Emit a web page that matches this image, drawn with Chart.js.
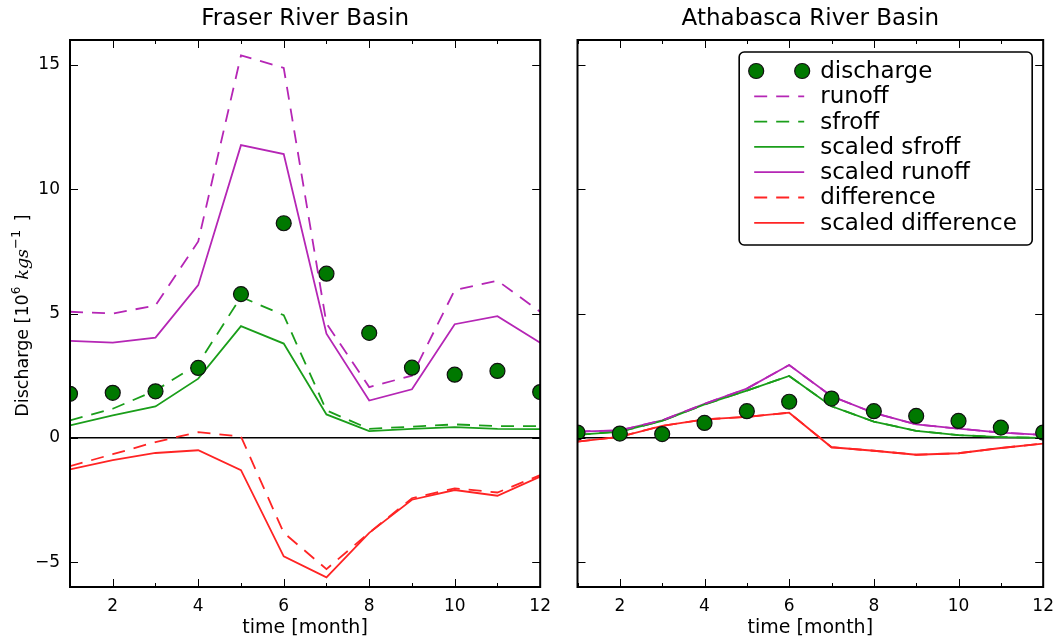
<!DOCTYPE html>
<html>
<head>
<meta charset="utf-8">
<script src="https://cdn.jsdelivr.net/npm/chart.js@4.4.1/dist/chart.umd.min.js"></script>
<style>
  html, body { margin: 0; padding: 0; background: #fff; }
  #wrap { position: relative; width: 1063px; height: 639px; overflow: hidden; }
  canvas { position: absolute; top: 0; }
  #fraser { left: 0; }
  #athabasca { left: 560px; }
</style>
</head>
<body>
<div id="wrap">
  <canvas id="fraser" width="560" height="639"></canvas>
  <canvas id="athabasca" width="503" height="639"></canvas>
</div>
<script>
const months = [1, 2, 3, 4, 5, 6, 7, 8, 9, 10, 11, 12];
const yTicks = [-5, 0, 5, 10, 15];

// Fraser River Basin, 10^6 kg/s
const fraserDischarge    = [1.77, 1.81, 1.87, 2.81, 5.78, 8.63, 6.60, 4.22, 2.82, 2.54, 2.69, 1.84];
const fraserRunoff       = [5.07, 5.00, 5.32, 7.90, 15.38, 14.88, 4.60, 2.04, 2.50, 5.94, 6.32, 5.07];
const fraserSfroff       = [0.70, 1.17, 1.90, 2.98, 5.67, 4.93, 1.10, 0.36, 0.45, 0.54, 0.47, 0.47];
const fraserScaledSfroff = [0.50, 0.90, 1.26, 2.38, 4.49, 3.79, 0.94, 0.27, 0.36, 0.43, 0.36, 0.35];
const fraserScaledRunoff = [3.90, 3.83, 4.03, 6.14, 11.77, 11.41, 4.19, 1.50, 1.95, 4.57, 4.89, 3.82];
const fraserDiff         = [-1.14, -0.66, -0.17, 0.23, 0.05, -3.82, -5.28, -3.82, -2.43, -2.03, -2.20, -1.50];
const fraserScaledDiff   = [-1.27, -0.90, -0.61, -0.50, -1.30, -4.77, -5.61, -3.82, -2.49, -2.10, -2.33, -1.56];

// Athabasca River Basin, 10^6 kg/s
const athaDischarge    = [0.21, 0.17, 0.15, 0.60, 1.07, 1.45, 1.58, 1.07, 0.88, 0.68, 0.41, 0.21];
const athaRunoff       = [0.25, 0.30, 0.70, 1.37, 1.98, 2.93, 1.67, 1.00, 0.54, 0.37, 0.21, 0.12];
const athaSfroff       = [0.12, 0.25, 0.68, 1.34, 1.90, 2.49, 1.27, 0.65, 0.28, 0.11, 0.03, 0.00];
const athaScaledSfroff = [0.12, 0.25, 0.68, 1.34, 1.90, 2.49, 1.27, 0.65, 0.28, 0.11, 0.03, 0.00];
const athaScaledRunoff = [0.25, 0.30, 0.70, 1.37, 1.98, 2.93, 1.67, 1.00, 0.54, 0.37, 0.21, 0.12];
const athaDiff         = [-0.15, 0.04, 0.48, 0.74, 0.84, 1.01, -0.38, -0.52, -0.68, -0.62, -0.41, -0.23];
const athaScaledDiff   = [-0.15, 0.04, 0.48, 0.74, 0.84, 1.01, -0.38, -0.52, -0.68, -0.62, -0.41, -0.23];

const DOT = '#007800';
const GREEN = '#1a9e1a';
const MAGENTA = '#b526b5';
const RED = '#ff2424';
const DASH = [13, 9];
const SANS = '"DejaVu Sans", sans-serif';

const pts = vals => months.map((m, i) => ({ x: m, y: vals[i] }));

function line(label, vals, color, dashed) {
  return {
    label, data: pts(vals), borderColor: color, backgroundColor: color,
    borderWidth: 1.8, borderDash: dashed ? DASH : [], pointRadius: 0,
    tension: 0, fill: false
  };
}

function buildSets(d) {
  return [
    { label: 'discharge', data: pts(d.discharge), showLine: false,
      pointRadius: 7.5, pointHoverRadius: 7.5, pointBackgroundColor: DOT,
      pointBorderColor: '#111', pointBorderWidth: 1.2, backgroundColor: DOT,
      borderColor: '#111', clip: 0 },
    line('runoff', d.runoff, MAGENTA, true),
    line('sfroff', d.sfroff, GREEN, true),
    line('scaled sfroff', d.scaledSfroff, GREEN, false),
    line('scaled runoff', d.scaledRunoff, MAGENTA, false),
    line('difference', d.diff, RED, true),
    line('scaled difference', d.scaledDiff, RED, false)
  ];
}

// box around the axes with inward ticks on every side
const frameTicks = {
  id: 'frameTicks',
  afterDraw(chart) {
    const { ctx, chartArea: a, scales: { x, y } } = chart;
    ctx.save();
    ctx.strokeStyle = '#000';
    ctx.lineWidth = 1;
    ctx.beginPath();
    x.ticks.forEach(t => {
      const px = Math.round(x.getPixelForValue(t.value)) + 0.5;
      const len = t.value % 2 === 0 ? 8 : 4;
      ctx.moveTo(px, a.bottom); ctx.lineTo(px, a.bottom - len);
      ctx.moveTo(px, a.top); ctx.lineTo(px, a.top + len);
    });
    yTicks.forEach(v => {
      const py = Math.round(y.getPixelForValue(v)) + 0.5;
      ctx.moveTo(a.left, py); ctx.lineTo(a.left + 8, py);
      ctx.moveTo(a.right, py); ctx.lineTo(a.right - 8, py);
    });
    ctx.stroke();
    ctx.lineWidth = 2;
    ctx.strokeRect(a.left, a.top, a.right - a.left, a.bottom - a.top);
    ctx.restore();
  }
};

// rotated y label with a superscript exponent and italic units
const yLabel = {
  id: 'yLabel',
  afterDraw(chart, args, o) {
    if (!o.display) return;
    const { ctx, chartArea: a } = chart;
    const parts = [
      { t: 'Discharge [10', f: '17.5px ' + SANS, dy: 0 },
      { t: '6', f: '12px ' + SANS, dy: -8, gap: 7 },
      { t: 'kgs', f: 'italic 17.5px "DejaVu Serif", serif', dy: 0 },
      { t: '\u22121', f: '13px ' + SANS, dy: -8, gap: 3 },
      { t: ' ]', f: '17.5px ' + SANS, dy: 0 }
    ];
    ctx.save();
    let total = 0;
    parts.forEach(p => {
      ctx.font = p.f;
      p.w = ctx.measureText(p.t).width + (p.gap || 0);
      total += p.w;
    });
    ctx.translate(o.x, (a.top + a.bottom) / 2 + 2);
    ctx.rotate(-Math.PI / 2);
    ctx.fillStyle = '#000';
    ctx.textBaseline = 'alphabetic';
    let cx = -total / 2;
    parts.forEach(p => { ctx.font = p.f; ctx.fillText(p.t, cx, p.dy); cx += p.w; });
    ctx.restore();
  }
};

// boxed legend inside the top right corner of the axes
const insetLegend = {
  id: 'insetLegend',
  afterDraw(chart, args, o) {
    if (!o.display) return;
    const { ctx, chartArea: a } = chart;
    const sets = chart.data.datasets;
    const right = a.right - 11, top = a.top + 12;
    const w = 293, h = 193, rowH = 25.3;
    const left = right - w;
    ctx.save();
    ctx.beginPath();
    ctx.roundRect(left, top, w, h, 5);
    ctx.fillStyle = '#fff';
    ctx.fill();
    ctx.lineWidth = 1.6;
    ctx.strokeStyle = '#000';
    ctx.stroke();
    ctx.font = '23px ' + SANS;
    ctx.textBaseline = 'middle';
    const x0 = left + 17, x1 = left + 63;
    sets.forEach((ds, i) => {
      const yy = top + 19 + i * rowH;
      if (ds.showLine === false) {
        [x0, x1].forEach(px => {
          ctx.beginPath();
          ctx.arc(px, yy, ds.pointRadius, 0, Math.PI * 2);
          ctx.fillStyle = ds.pointBackgroundColor;
          ctx.fill();
          ctx.lineWidth = 1.2;
          ctx.strokeStyle = ds.pointBorderColor;
          ctx.stroke();
        });
      } else {
        ctx.beginPath();
        ctx.setLineDash(ds.borderDash);
        ctx.moveTo(x0 - 2, yy);
        ctx.lineTo(x1 + 2, yy);
        ctx.lineWidth = ds.borderWidth;
        ctx.strokeStyle = ds.borderColor;
        ctx.stroke();
        ctx.setLineDash([]);
      }
      ctx.fillStyle = '#000';
      ctx.fillText(ds.label, left + 81, yy + 1);
    });
    ctx.restore();
  }
};

function makeChart(id, title, sets, cfg) {
  return new Chart(document.getElementById(id), {
    type: 'line',
    data: { datasets: sets },
    plugins: [frameTicks, yLabel, insetLegend],
    options: {
      responsive: false,
      animation: false,
      layout: { padding: { left: 0, right: cfg.padRight, top: 0, bottom: 0 } },
      plugins: {
        legend: { display: false },
        tooltip: { enabled: false },
        title: {
          display: true, text: title, fullSize: false, color: '#000',
          font: { family: SANS, size: 23, weight: 'normal' },
          padding: { top: 5, bottom: 7.4 }
        },
        yLabel: { display: cfg.yLabel, x: 28 },
        insetLegend: { display: cfg.legend }
      },
      scales: {
        x: {
          type: 'linear', min: 1, max: 12,
          grid: { display: false, drawTicks: false },
          border: { display: false },
          ticks: {
            stepSize: 1, autoSkip: false, maxRotation: 0, padding: 9, color: '#000',
            font: { family: SANS, size: 17 },
            callback: v => (v % 2 === 0 ? String(v) : '')
          },
          title: {
            display: true, text: 'time [month]', color: '#000',
            font: { family: SANS, size: 19 }, padding: { top: 0, bottom: 0 }
          },
          afterFit: s => { s.height = 52; }
        },
        y: {
          min: -6, max: 16,
          grid: {
            drawTicks: false,
            color: c => (c.tick && c.tick.value === 0 ? '#000' : 'rgba(0,0,0,0)'),
            lineWidth: 1.6
          },
          border: { display: false },
          ticks: {
            display: cfg.yTickLabels, stepSize: 5, includeBounds: false,
            padding: 10, color: '#000',
            font: { family: SANS, size: 17 },
            callback: v => String(v).replace('-', '\u2212')
          },
          afterFit: s => { s.width = cfg.yWidth; }
        }
      }
    }
  });
}

makeChart('fraser', 'Fraser River Basin', buildSets({
  discharge: fraserDischarge, runoff: fraserRunoff, sfroff: fraserSfroff,
  scaledSfroff: fraserScaledSfroff, scaledRunoff: fraserScaledRunoff,
  diff: fraserDiff, scaledDiff: fraserScaledDiff
}), { padRight: 18, yWidth: 70, yTickLabels: true, yLabel: true, legend: false });

makeChart('athabasca', 'Athabasca River Basin', buildSets({
  discharge: athaDischarge, runoff: athaRunoff, sfroff: athaSfroff,
  scaledSfroff: athaScaledSfroff, scaledRunoff: athaScaledRunoff,
  diff: athaDiff, scaledDiff: athaScaledDiff
}), { padRight: 14, yWidth: 17.5, yTickLabels: false, yLabel: false, legend: true });
</script>
</body>
</html>
